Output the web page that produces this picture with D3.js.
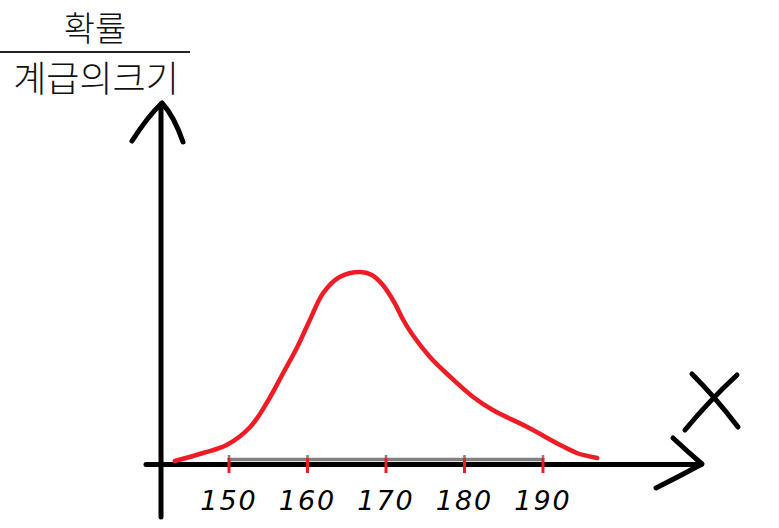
<!DOCTYPE html>
<html>
<head>
<meta charset="utf-8">
<script src="https://cdn.jsdelivr.net/npm/d3@7"></script>
<style>
  html, body { margin: 0; padding: 0; background: #fff; }
  svg { display: block; }
</style>
</head>
<body>
<div id="chart"></div>
<script>
// ---- data ----
const tickValues = [150, 160, 170, 180, 190];
const tickLabels = ["150", "160", "170", "180", "190"];
const curveX = [143.1, 146.7, 149.7, 152.7, 154.8, 156.9, 158.7, 160.3, 162.0, 164.1, 166.7,
                168.2, 169.6, 171.1, 172.2, 173.4, 175.6, 178.2, 181.1, 183.6, 188.0, 192.2, 194.3, 196.9];
const curveY = [1.5, 5.5, 9.5, 18.5, 30.5, 45.5, 58.5, 72, 85.5, 93.5, 96,
                94.5, 89.5, 80.5, 72, 64.5, 53.5, 43.5, 33.5, 27, 18.5, 9.5, 5.5, 3];
const titleTop = "확률";
const titleBottom = "계급의크기";
const axisName = "X";

const W = 779, H = 528;
const svg = d3.select("#chart").append("svg").attr("width", W).attr("height", H);

const x = d3.scaleLinear().domain([150, 190]).range([229, 543]);
const y = d3.scaleLinear().domain([0, 100]).range([464, 264]);

// title fraction
const tf = "'Noto Sans CJK KR', sans-serif";
svg.append("text").attr("x", 95).attr("y", 41).attr("text-anchor", "middle")
  .attr("font-family", tf).attr("font-size", 34).attr("font-weight", 300)
  .attr("fill", "#111").text(titleTop);
svg.append("line").attr("x1", 0).attr("x2", 190).attr("y1", 52).attr("y2", 52)
  .attr("stroke", "#222").attr("stroke-width", 2);
svg.append("text").attr("x", 96).attr("y", 92).attr("text-anchor", "middle")
  .attr("font-family", tf).attr("font-size", 36).attr("font-weight", 300)
  .attr("fill", "#111").text(titleBottom);

// y axis
svg.append("line").attr("x1", 161).attr("x2", 161).attr("y1", 104).attr("y2", 517)
  .attr("stroke", "#000").attr("stroke-width", 5).attr("stroke-linecap", "round");
svg.append("path").attr("d", "M132,141 Q148,116 162,103 Q174,116 183,142")
  .attr("fill", "none").attr("stroke", "#000").attr("stroke-width", 5)
  .attr("stroke-linecap", "round").attr("stroke-linejoin", "round");

// gray class-interval line
svg.append("line").attr("x1", x(150)).attr("x2", x(190)).attr("y1", 459.5).attr("y2", 459.5)
  .attr("stroke", "#808080").attr("stroke-width", 3.5);
svg.selectAll(".gtick").data(tickValues).enter().append("line")
  .attr("x1", d => x(d)).attr("x2", d => x(d)).attr("y1", 455).attr("y2", 460)
  .attr("stroke", "#808080").attr("stroke-width", 2.5);

// x axis
svg.append("line").attr("x1", 146).attr("x2", 701).attr("y1", 464.5).attr("y2", 464.5)
  .attr("stroke", "#000").attr("stroke-width", 5).attr("stroke-linecap", "round");
svg.append("path").attr("d", "M673,438 Q688,452 702,464 Q680,476 656,488")
  .attr("fill", "none").attr("stroke", "#000").attr("stroke-width", 5)
  .attr("stroke-linecap", "round").attr("stroke-linejoin", "round");

// X letter (drawn)
svg.append("path").attr("d", "M692,374 Q716,398 738,427")
  .attr("fill", "none").attr("stroke", "#000").attr("stroke-width", 5).attr("stroke-linecap", "round");
svg.append("path").attr("d", "M737,375 Q708,402 685,430")
  .attr("fill", "none").attr("stroke", "#000").attr("stroke-width", 5).attr("stroke-linecap", "round");
svg.append("text").attr("x", -100).attr("y", -100).attr("opacity", 0).text(axisName);

// red ticks
svg.selectAll(".rtick").data(tickValues).enter().append("line")
  .attr("x1", d => x(d)).attr("x2", d => x(d)).attr("y1", 458).attr("y2", 473)
  .attr("stroke", "#ee1c24").attr("stroke-width", 3);

// tick labels
svg.selectAll(".tl").data(tickValues).enter().append("text")
  .attr("x", d => x(d)).attr("y", 510).attr("text-anchor", "middle")
  .attr("font-family", "'DejaVu Sans', sans-serif").attr("font-size", 27)
  .attr("font-style", "italic").attr("letter-spacing", 2)
  .attr("fill", "#000").text((d, i) => tickLabels[i]);

// red curve
const pts = curveX.map((v, i) => [v, curveY[i]]);
const line = d3.line().x(d => x(d[0])).y(d => y(d[1])).curve(d3.curveCatmullRom);
svg.append("path").attr("d", line(pts)).attr("fill", "none")
  .attr("stroke", "#ee1c24").attr("stroke-width", 4.5)
  .attr("stroke-linecap", "round").attr("stroke-linejoin", "round");
</script>
</body>
</html>
